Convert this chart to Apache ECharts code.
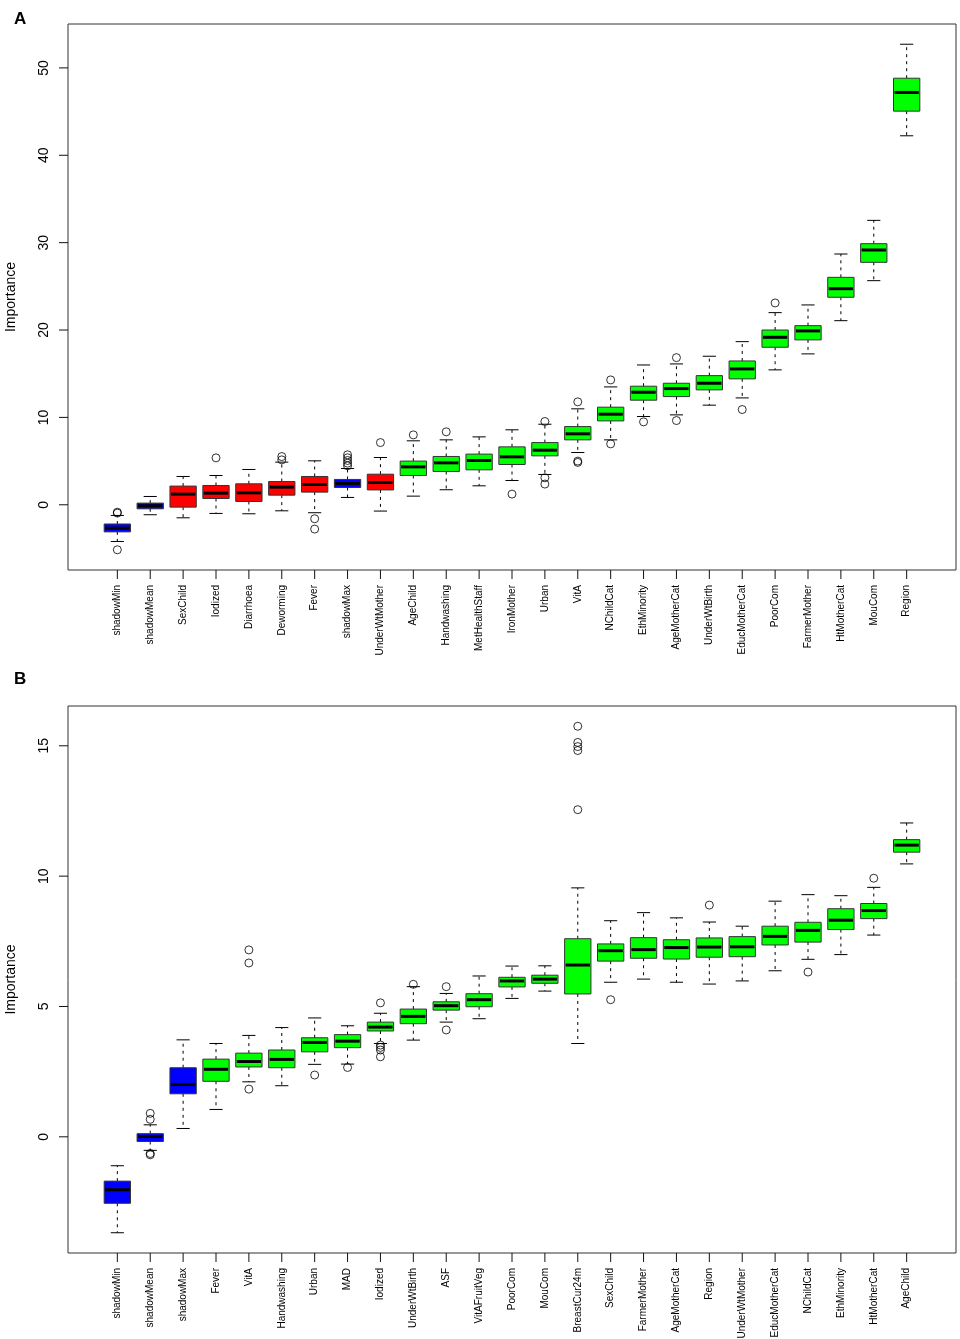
<!DOCTYPE html>
<html>
<head>
<meta charset="utf-8">
<title>Variable importance</title>
<script src="https://cdn.jsdelivr.net/npm/echarts@6/dist/echarts.min.js"></script>
<style>
html, body { margin: 0; padding: 0; background: #fff; }
#main { width: 960px; height: 1339px; }
</style>
</head>
<body>
<div id="main"></div>
<script>
// ---- panel A ----
var namesA = ['shadowMin', 'shadowMean', 'SexChild', 'Iodized', 'Diarrhoea', 'Deworming', 'Fever',
	'shadowMax', 'UnderWtMother', 'AgeChild', 'Handwashing', 'MetHealthStaff', 'IronMother', 'Urban',
	'VitA', 'NChildCat', 'EthMinority', 'AgeMotherCat', 'UnderWtBirth', 'EducMotherCat', 'PoorCom',
	'FarmerMother', 'HtMotherCat', 'MouCom', 'Region'];
// s = shadow, r = rejected, c = confirmed
var decisionA = ['s', 's', 'r', 'r', 'r', 'r', 'r', 's', 'r', 'c', 'c', 'c', 'c', 'c',
	'c', 'c', 'c', 'c', 'c', 'c', 'c', 'c', 'c', 'c', 'c'];
// [lower whisker, Q1, median, Q3, upper whisker]
var statsA = [
	[-4.2, -3.1, -2.67, -2.2, -1.22],
	[-1.14, -0.46, -0.11, 0.19, 0.95],
	[-1.49, -0.27, 1.22, 2.14, 3.24],
	[-0.99, 0.72, 1.33, 2.21, 3.35],
	[-1.03, 0.38, 1.37, 2.4, 4.04],
	[-0.69, 1.1, 2.02, 2.66, 4.88],
	[-0.91, 1.45, 2.32, 3.24, 5.03],
	[0.84, 1.98, 2.44, 2.9, 4.15],
	[-0.72, 1.7, 2.55, 3.5, 5.41],
	[0.99, 3.35, 4.34, 5.0, 7.32],
	[1.72, 3.81, 4.8, 5.53, 7.43],
	[2.17, 4.0, 5.07, 5.8, 7.77],
	[2.78, 4.61, 5.49, 6.63, 8.58],
	[3.47, 5.6, 6.25, 7.12, 9.22],
	[5.98, 7.43, 8.12, 8.95, 10.98],
	[7.43, 9.6, 10.37, 11.17, 13.49],
	[10.1, 11.97, 12.88, 13.57, 16.0],
	[10.29, 12.38, 13.3, 13.91, 16.12],
	[11.4, 13.15, 13.91, 14.78, 17.0],
	[12.23, 14.41, 15.55, 16.46, 18.67],
	[15.44, 18.03, 19.17, 20.0, 21.99],
	[17.27, 18.87, 19.9, 20.5, 22.87],
	[21.07, 23.75, 24.73, 26.03, 28.7],
	[25.65, 27.75, 29.16, 29.88, 32.55],
	[42.23, 45.05, 47.19, 48.82, 52.71]
];
var outliersA = [
	['shadowMin', -0.85], ['shadowMin', -0.95], ['shadowMin', -5.15],
	['Iodized', 5.37],
	['Deworming', 5.52], ['Deworming', 5.14],
	['Fever', -1.6], ['Fever', -2.78],
	['shadowMax', 5.72], ['shadowMax', 5.38], ['shadowMax', 5.07], ['shadowMax', 4.76], ['shadowMax', 4.46],
	['UnderWtMother', 7.12],
	['AgeChild', 8.0],
	['Handwashing', 8.35],
	['IronMother', 1.22],
	['Urban', 9.53], ['Urban', 3.09], ['Urban', 2.37],
	['VitA', 11.78], ['VitA', 5.0], ['VitA', 4.85],
	['NChildCat', 14.29], ['NChildCat', 6.97],
	['EthMinority', 9.49],
	['AgeMotherCat', 16.84], ['AgeMotherCat', 9.64],
	['EducMotherCat', 10.9],
	['PoorCom', 23.1]
];
var ticksA = [0, 10, 20, 30, 40, 50];

// ---- panel B ----
var namesB = ['shadowMin', 'shadowMean', 'shadowMax', 'Fever', 'VitA', 'Handwashing', 'Urban', 'MAD',
	'Iodized', 'UnderWtBirth', 'ASF', 'VitAFruitVeg', 'PoorCom', 'MouCom', 'BreastCur24m', 'SexChild',
	'FarmerMother', 'AgeMotherCat', 'Region', 'UnderWtMother', 'EducMotherCat', 'NChildCat',
	'EthMinority', 'HtMotherCat', 'AgeChild'];
var decisionB = ['s', 's', 's', 'c', 'c', 'c', 'c', 'c', 'c', 'c', 'c', 'c', 'c', 'c',
	'c', 'c', 'c', 'c', 'c', 'c', 'c', 'c', 'c', 'c', 'c'];
var statsB = [
	[-3.68, -2.55, -2.03, -1.7, -1.11],
	[-0.52, -0.18, 0.01, 0.12, 0.46],
	[0.32, 1.65, 2.01, 2.65, 3.72],
	[1.05, 2.13, 2.59, 2.98, 3.58],
	[2.11, 2.68, 2.89, 3.21, 3.89],
	[1.96, 2.65, 2.97, 3.33, 4.19],
	[2.78, 3.26, 3.62, 3.8, 4.56],
	[2.79, 3.42, 3.67, 3.92, 4.26],
	[3.58, 4.06, 4.21, 4.4, 4.74],
	[3.71, 4.34, 4.62, 4.9, 5.76],
	[4.4, 4.86, 5.03, 5.18, 5.5],
	[4.53, 4.99, 5.26, 5.49, 6.17],
	[5.31, 5.75, 5.98, 6.12, 6.55],
	[5.59, 5.89, 6.05, 6.2, 6.56],
	[3.58, 5.48, 6.59, 7.6, 9.55],
	[5.93, 6.74, 7.14, 7.4, 8.29],
	[6.05, 6.85, 7.18, 7.64, 8.6],
	[5.93, 6.82, 7.26, 7.56, 8.4],
	[5.86, 6.89, 7.28, 7.63, 8.24],
	[5.98, 6.91, 7.29, 7.68, 8.08],
	[6.37, 7.36, 7.69, 8.08, 9.04],
	[6.81, 7.47, 7.92, 8.23, 9.29],
	[6.99, 7.95, 8.31, 8.75, 9.25],
	[7.74, 8.37, 8.68, 8.95, 9.57],
	[10.47, 10.92, 11.19, 11.4, 12.04]
];
var outliersB = [
	['shadowMean', 0.9], ['shadowMean', 0.67], ['shadowMean', -0.64], ['shadowMean', -0.69],
	['VitA', 7.17], ['VitA', 6.67], ['VitA', 1.83],
	['Urban', 2.37],
	['MAD', 2.66],
	['Iodized', 5.14], ['Iodized', 3.52], ['Iodized', 3.43], ['Iodized', 3.33], ['Iodized', 3.07],
	['UnderWtBirth', 5.85],
	['ASF', 5.76], ['ASF', 4.1],
	['BreastCur24m', 15.75], ['BreastCur24m', 15.13], ['BreastCur24m', 14.97], ['BreastCur24m', 14.82], ['BreastCur24m', 12.55],
	['SexChild', 5.26],
	['Region', 8.89],
	['NChildCat', 6.32],
	['HtMotherCat', 9.92]
];
var ticksB = [0, 5, 10, 15];

var fillColor = { s: '#0000ff', r: '#ff0000', c: '#00ff00' };
var font = "'Liberation Sans', Arial, Helvetica, sans-serif";
var TICK_LEN = 9;

// R style range: data extent widened by 4%
function rRange(stats, outl) {
	var lo = Infinity, hi = -Infinity;
	stats.forEach(function (s) { lo = Math.min(lo, s[0]); hi = Math.max(hi, s[4]); });
	outl.forEach(function (o) { lo = Math.min(lo, o[1]); hi = Math.max(hi, o[1]); });
	var pad = (hi - lo) * 0.04;
	return [lo - pad, hi + pad];
}
// boxplot x range: 0.5..n+0.5 widened by 4%
function xRange(n) {
	return [0.5 - 0.04 * n, n + 0.5 + 0.04 * n];
}

function positions(n) {
	var p = [];
	for (var i = 1; i <= n; i++) p.push(i);
	return p;
}

// box, dashed whiskers, half-width staples, thick median
function boxRenderer(decision) {
	return function (params, api) {
		var x = api.value(0);
		var lo = api.coord([x, api.value(1)]);
		var q1 = api.coord([x, api.value(2)]);
		var md = api.coord([x, api.value(3)]);
		var q3 = api.coord([x, api.value(4)]);
		var hi = api.coord([x, api.value(5)]);
		var w = api.size([0.8, 0])[0];
		var cx = lo[0];
		var dash = { stroke: '#000', lineWidth: 1, lineDash: [3, 4] };
		var solid = { stroke: '#000', lineWidth: 1 };
		return {
			type: 'group',
			children: [
				{ type: 'line', shape: { x1: cx, y1: q3[1], x2: cx, y2: hi[1] }, style: dash },
				{ type: 'line', shape: { x1: cx, y1: q1[1], x2: cx, y2: lo[1] }, style: dash },
				{ type: 'line', shape: { x1: cx - w / 4, y1: hi[1], x2: cx + w / 4, y2: hi[1] }, style: solid },
				{ type: 'line', shape: { x1: cx - w / 4, y1: lo[1], x2: cx + w / 4, y2: lo[1] }, style: solid },
				{ type: 'rect', shape: { x: cx - w / 2, y: q3[1], width: w, height: q1[1] - q3[1] },
					style: { fill: fillColor[decision[params.dataIndex]], stroke: '#333', lineWidth: 1 } },
				{ type: 'line', shape: { x1: cx - w / 2 + 1, y1: md[1], x2: cx + w / 2 - 1, y2: md[1] },
					style: { stroke: '#000', lineWidth: 3 } }
			]
		};
	};
}

function xAxisFor(names, gridIndex) {
	var n = names.length;
	var xr = xRange(n);
	return {
		type: 'value',
		gridIndex: gridIndex,
		position: 'bottom',
		min: xr[0],
		max: xr[1],
		axisLine: { show: false, onZero: false },
		splitLine: { show: false },
		axisTick: { show: false },
		axisLabel: {
			customValues: positions(n),
			rotate: 90,
			margin: 15,
			fontSize: 10,
			fontFamily: font,
			color: '#000',
			formatter: function (v) { return names[Math.round(v) - 1]; }
		}
	};
}

function yAxisFor(range, ticks, gridIndex) {
	return {
		type: 'value',
		gridIndex: gridIndex,
		position: 'left',
		min: range[0],
		max: range[1],
		name: 'Importance',
		nameLocation: 'middle',
		nameRotate: 90,
		nameGap: 50,
		nameTextStyle: { fontSize: 14, fontFamily: font, color: '#000' },
		axisLine: { show: false, onZero: false },
		splitLine: { show: false },
		axisTick: { show: false },
		axisLabel: {
			customValues: ticks,
			rotate: 90,
			margin: 17,
			fontSize: 14,
			fontFamily: font,
			color: '#000'
		}
	};
}

function outlierData(names, outl) {
	return outl.map(function (o) { return [names.indexOf(o[0]) + 1, o[1]]; });
}

function boxData(stats) {
	return stats.map(function (s, i) { return [i + 1].concat(s); });
}

function panelSeries(idx, names, decision, stats, outl) {
	return [
		{
			type: 'custom',
			xAxisIndex: idx, yAxisIndex: idx,
			renderItem: boxRenderer(decision),
			encode: { x: 0, y: [1, 2, 3, 4, 5] },
			data: boxData(stats)
		},
		{
			type: 'scatter',
			xAxisIndex: idx, yAxisIndex: idx,
			symbol: 'circle', symbolSize: 8,
			itemStyle: { color: 'rgba(0,0,0,0)', borderColor: '#000', borderWidth: 1 },
			data: outlierData(names, outl)
		}
	];
}

var myChart = echarts.init(document.getElementById('main'));
var rangeA = rRange(statsA, outliersA);
var rangeB = rRange(statsB, outliersB);

var option = {
	animation: false,
	backgroundColor: '#fff',
	title: [
		{ text: 'A', left: 9, top: 6, textStyle: { fontSize: 17, fontWeight: 'bold', fontFamily: font, color: '#000' } },
		{ text: 'B', left: 9, top: 666, textStyle: { fontSize: 17, fontWeight: 'bold', fontFamily: font, color: '#000' } }
	],
	grid: [
		{ left: 68, top: 24, width: 888, height: 546, show: true, borderColor: '#333', borderWidth: 1,
			backgroundColor: 'transparent', outerBoundsMode: 'none' },
		{ left: 68, top: 706, width: 888, height: 547, show: true, borderColor: '#333', borderWidth: 1,
			backgroundColor: 'transparent', outerBoundsMode: 'none' }
	],
	xAxis: [xAxisFor(namesA, 0), xAxisFor(namesB, 1)],
	yAxis: [yAxisFor(rangeA, ticksA, 0), yAxisFor(rangeB, ticksB, 1)],
	series: panelSeries(0, namesA, decisionA, statsA, outliersA)
		.concat(panelSeries(1, namesB, decisionB, statsB, outliersB))
};
myChart.setOption(option);

// outward tick marks, placed with the chart's own scales
function tickGraphics(gridIndex, n, ticks, yr) {
	var out = [];
	var xr = xRange(n);
	var style = { stroke: '#111', lineWidth: 1 };
	positions(n).forEach(function (p) {
		var pt = myChart.convertToPixel({ gridIndex: gridIndex }, [p, yr[0]]);
		out.push({ type: 'line', z: 100, silent: true,
			shape: { x1: pt[0], y1: pt[1], x2: pt[0], y2: pt[1] + TICK_LEN }, style: style });
	});
	ticks.forEach(function (t) {
		var pt = myChart.convertToPixel({ gridIndex: gridIndex }, [xr[0], t]);
		out.push({ type: 'line', z: 100, silent: true,
			shape: { x1: pt[0] - TICK_LEN, y1: pt[1], x2: pt[0], y2: pt[1] }, style: style });
	});
	return out;
}
myChart.setOption({
	graphic: tickGraphics(0, namesA.length, ticksA, rangeA)
		.concat(tickGraphics(1, namesB.length, ticksB, rangeB))
});
</script>
</body>
</html>
